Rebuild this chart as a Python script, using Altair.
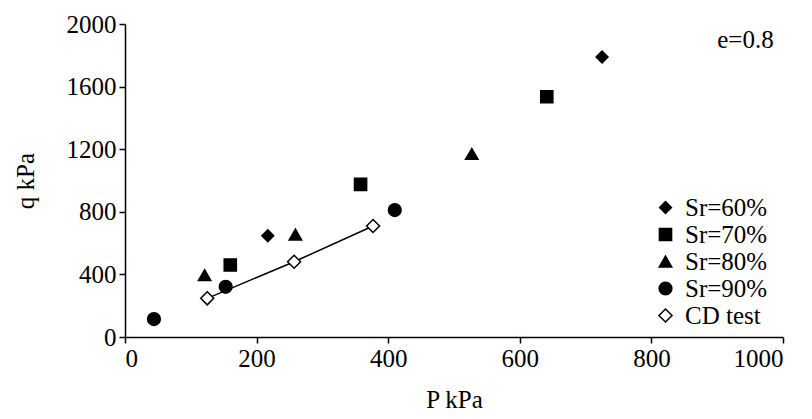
import altair as alt
import pandas as pd

# Data
groups = ["Sr=60%", "Sr=70%", "Sr=80%", "Sr=90%", "CD test"]
sr60_p = [217, 725]
sr60_q = [647, 1789]
sr70_p = [160, 358, 641]
sr70_q = [460, 975, 1535]
sr80_p = [121, 259, 527]
sr80_q = [395, 655, 1170]
sr90_p = [44, 153, 410]
sr90_q = [115, 321, 811]
cd_p = [125, 257, 377]
cd_q = [247, 481, 709]

x_ticks = [0, 200, 400, 600, 800, 1000]
y_ticks = [0, 400, 800, 1200, 1600, 2000]

rows = []
for name, ps, qs in [("Sr=60%", sr60_p, sr60_q), ("Sr=70%", sr70_p, sr70_q),
                     ("Sr=80%", sr80_p, sr80_q), ("Sr=90%", sr90_p, sr90_q),
                     ("CD test", cd_p, cd_q)]:
    for p, q in zip(ps, qs):
        rows.append({"P": p, "q": q, "group": name})
df = pd.DataFrame(rows)
cd_df = df[df["group"] == "CD test"]

FONT = "Liberation Serif, Times New Roman, serif"

x_enc = alt.X("P:Q", scale=alt.Scale(domain=[0, 1000], nice=False),
              axis=alt.Axis(title="P kPa", values=x_ticks, format="d"))
y_enc = alt.Y("q:Q", scale=alt.Scale(domain=[0, 2000], nice=False),
              axis=alt.Axis(title="q kPa", values=y_ticks, format="d"))

leg = dict(title=None, orient="none", legendX=528, legendY=171,
           labelFont=FONT, labelFontSize=25, labelColor="black",
           rowPadding=1, labelOffset=7)

line = alt.Chart(cd_df).mark_line(color="black", strokeWidth=1.5).encode(
    x=x_enc, y=y_enc
)

points = alt.Chart(df).mark_point(filled=False, opacity=1, strokeWidth=1.5, stroke="black").encode(
    x=x_enc,
    y=y_enc,
    shape=alt.Shape("group:N", scale=alt.Scale(
        domain=groups, range=["diamond", "square", "triangle-up", "circle", "diamond"]),
        legend=alt.Legend(**leg)),
    fill=alt.Fill("group:N", scale=alt.Scale(
        domain=groups, range=["black", "black", "black", "black", "white"]),
        legend=alt.Legend(**leg)),
    size=alt.Size("group:N", scale=alt.Scale(
        domain=groups, range=[140, 170, 170, 180, 100]),
        legend=alt.Legend(**leg)),
)

label = alt.Chart(pd.DataFrame({"P": [943], "q": [1898], "t": ["e=0.8"]})).mark_text(
    font=FONT, fontSize=25, color="black", align="center", baseline="middle"
).encode(x=alt.X("P:Q"), y=alt.Y("q:Q"), text="t:N")

chart = alt.layer(line, points, label).properties(
    width=658, height=313,
    autosize=alt.AutoSizeParams(type="none"),
    padding={"left": 117, "top": 16, "right": 21, "bottom": 74},
).configure(font=FONT).configure_view(stroke=None).configure_axis(
    grid=False, domainColor="black", domainWidth=1.5, tickColor="black",
    tickWidth=1.5, tickSize=6, labelFont=FONT, labelFontSize=25, labelColor="black",
    titleFont=FONT, titleFontSize=25, titleFontWeight="normal", titleColor="black",
).configure_axisX(labelPadding=3, titlePadding=16).configure_axisY(
    labelPadding=3, titlePadding=28
).configure_legend(labelFont=FONT).configure_text(font=FONT)

chart.save("out.html", embed_options={"renderer": "svg", "actions": False})
